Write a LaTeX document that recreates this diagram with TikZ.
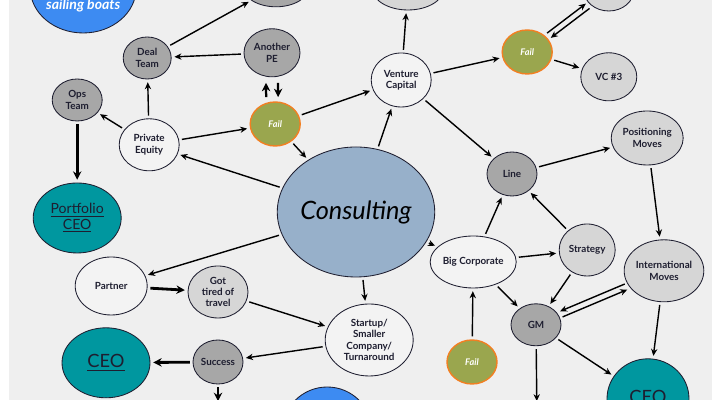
\documentclass[tikz,border=0pt]{standalone}
\usepackage{fontspec}
\setmainfont{Lato}
\usetikzlibrary{arrows.meta,shapes.geometric}
\definecolor{bg}{HTML}{EFEFEF}
\definecolor{ink}{HTML}{1E1E30}
\definecolor{pale}{HTML}{F3F3F3}
\definecolor{lgray}{HTML}{D6D6D6}
\definecolor{dgray}{HTML}{A7A7A7}
\definecolor{olive}{HTML}{9AA64E}
\definecolor{rim}{HTML}{F27F22}
\definecolor{petrol}{HTML}{00979F}
\definecolor{sky}{HTML}{3D8BF2}
\definecolor{steel}{HTML}{97B0CA}

\begin{document}
\begin{tikzpicture}[
    bub/.style={ellipse,draw=ink,line width=0.6pt,inner sep=0pt,align=center,text=ink,font=\fontsize{7}{8}\selectfont\bfseries},
    sz/.style 2 args={minimum width=#1cm,minimum height=#2cm},
    fail/.style={bub,fill=olive,draw=rim,line width=1pt,text=white,font=\fontsize{6.5}{8}\selectfont\bfseries\itshape},
    boss/.style={bub,fill=petrol,font=\fontsize{10}{11}\selectfont},
    arr/.style={-{Stealth[length=5pt,width=4.5pt]},line width=1pt,shorten <=2pt,shorten >=2pt},
    fat/.style={arr,line width=2pt,-{Stealth[length=6pt,width=6pt]}}
  ]
  \useasboundingbox (0,0) rectangle (18,10);
  \fill[bg] (0.225,0) rectangle (17.8,10);

  % top row, cut by the frame
  \node[bub,fill=sky,sz={2.65}{2.25}] (boats) at (2.08,10.3) {};
  \node[text=white,font=\fontsize{10}{12}\selectfont\bfseries\itshape] (boatstxt) at (2.08,9.85) {sailing boats};
  \node[bub,fill=dgray,sz={1.65}{1.0}] (petop) at (6.9,10.33) {};
  \node[bub,fill=lgray,sz={1.8}{1.1}] (vctop) at (10.2,10.3) {};
  \node[bub,fill=lgray,sz={1.25}{1.05}] (failtop) at (15.22,10.25) {};

  % private equity side
  \node[bub,fill=dgray,sz={1.2}{1.05}] (deal) at (3.68,8.55) {Deal\\Team};
  \node[bub,fill=dgray,sz={1.4}{1.2}] (anotherpe) at (6.8,8.68) {Another\\PE};
  \node[bub,fill=dgray,sz={1.25}{1.05}] (ops) at (1.93,7.5) {Ops\\Team};
  \node[bub,fill=pale,sz={1.5}{1.3}] (pe) at (3.73,6.38) {Private\\Equity};
  \node[fail,sz={1.25}{1.1}] (failpe) at (6.88,6.9) {Fail};
  \node[boss,sz={2.2}{1.75}] (portfolio) at (1.93,4.55) {\underline{Portfolio}\\\underline{CEO}};

  % centre
  \node[bub,fill=steel,sz={3.8}{3.25},text=black,font=\fontsize{18}{20}\selectfont\itshape] (consulting) at (8.9,4.7) {Consulting};

  % venture capital side
  \node[bub,fill=pale,sz={1.5}{1.35}] (vc) at (10.03,8.0) {Venture\\Capital};
  \node[fail,sz={1.25}{1.1}] (failvc) at (13.18,8.7) {Fail};
  \node[bub,fill=lgray,sz={1.4}{1.2}] (vc3) at (15.22,8.08) {VC \#3};

  % corporate side
  \node[bub,fill=dgray,sz={1.25}{1.1}] (line) at (12.8,5.65) {Line};
  \node[bub,fill=lgray,sz={1.8}{1.35}] (posmoves) at (16.18,6.55) {Positioning\\Moves};
  \node[bub,fill=pale,sz={2.0}{1.3}] (bigcorp) at (11.83,3.45) {Big Corporate};
  \node[bub,fill=lgray,sz={1.4}{1.3}] (strategy) at (14.68,3.75) {Strategy};
  \node[bub,fill=lgray,sz={1.8}{1.55}] (intl) at (16.6,3.23) {International\\Moves};
  \node[bub,fill=dgray,sz={1.25}{1.05}] (gm) at (13.4,1.88) {GM};
  \node[fail,sz={1.25}{1.1}] (failbc) at (11.8,0.95) {Fail};
  \node[boss,sz={2.05}{2.0},font=\fontsize{13}{14}\selectfont] (ceor) at (16.2,0.03) {\underline{CEO}};

  % partner and startup side
  \node[bub,fill=pale,sz={1.8}{1.45}] (partner) at (2.78,2.85) {Partner};
  \node[bub,fill=lgray,sz={1.5}{1.3}] (tired) at (5.45,2.7) {Got\\tired of\\travel};
  \node[bub,fill=pale,sz={2.2}{1.8}] (startup) at (9.23,1.5) {Startup/\\Smaller\\Company/\\Turnaround};
  \node[bub,fill=dgray,sz={1.25}{1.1}] (success) at (5.45,0.95) {Success};
  \node[boss,sz={2.2}{1.75},font=\fontsize{13}{14}\selectfont] (ceol) at (2.65,0.93) {\underline{CEO}};
  \node[bub,fill=sky,sz={2.25}{2.25}] (bluebot) at (8.18,-0.8) {};

  \coordinate (gmdown) at (13.42,-0.1);
  \coordinate (successdown) at (5.45,-0.1);

  \foreach \a/\b in {deal/petop,anotherpe/deal,pe/deal,pe/ops,pe/failpe,failpe/consulting,failpe/vc,
      consulting/pe,consulting/vc,vc/vctop,vc/failvc,failvc/vc3,vc/line,line/posmoves,posmoves/intl,
      strategy/line,bigcorp/line,consulting/bigcorp,bigcorp/strategy,bigcorp/gm,strategy/gm,
      intl/ceor,gm/ceor,failbc/bigcorp,consulting/partner,tired/startup,consulting/startup,
      startup/success,gm/gmdown}
    \draw[arr] (\a) -- (\b);
  \foreach \a/\b in {ops/portfolio,partner/tired,success/ceol,success/successdown}
    \draw[fat] (\a) -- (\b);

  % back and forth
  \draw[fat,line width=1.6pt,shorten <=3pt,shorten >=4pt] ([xshift=-6.4pt]failpe.north) -- ([xshift=-4.3pt]anotherpe.south);
  \draw[fat,line width=1.6pt,shorten <=4pt,shorten >=3pt] ([xshift=4.3pt]anotherpe.south) -- ([xshift=2.1pt]failpe.north);
  \draw[arr,transform canvas={shift={(-1.3pt,1.7pt)}}] (failvc) -- (failtop);
  \draw[arr,transform canvas={shift={(1.3pt,-1.7pt)}}] (failtop) -- (failvc);
  \draw[arr,transform canvas={shift={(-0.9pt,2pt)}}] (intl) -- (gm);
  \draw[arr,transform canvas={shift={(0.9pt,-2pt)}}] (gm) -- (intl);
\end{tikzpicture}
\end{document}
